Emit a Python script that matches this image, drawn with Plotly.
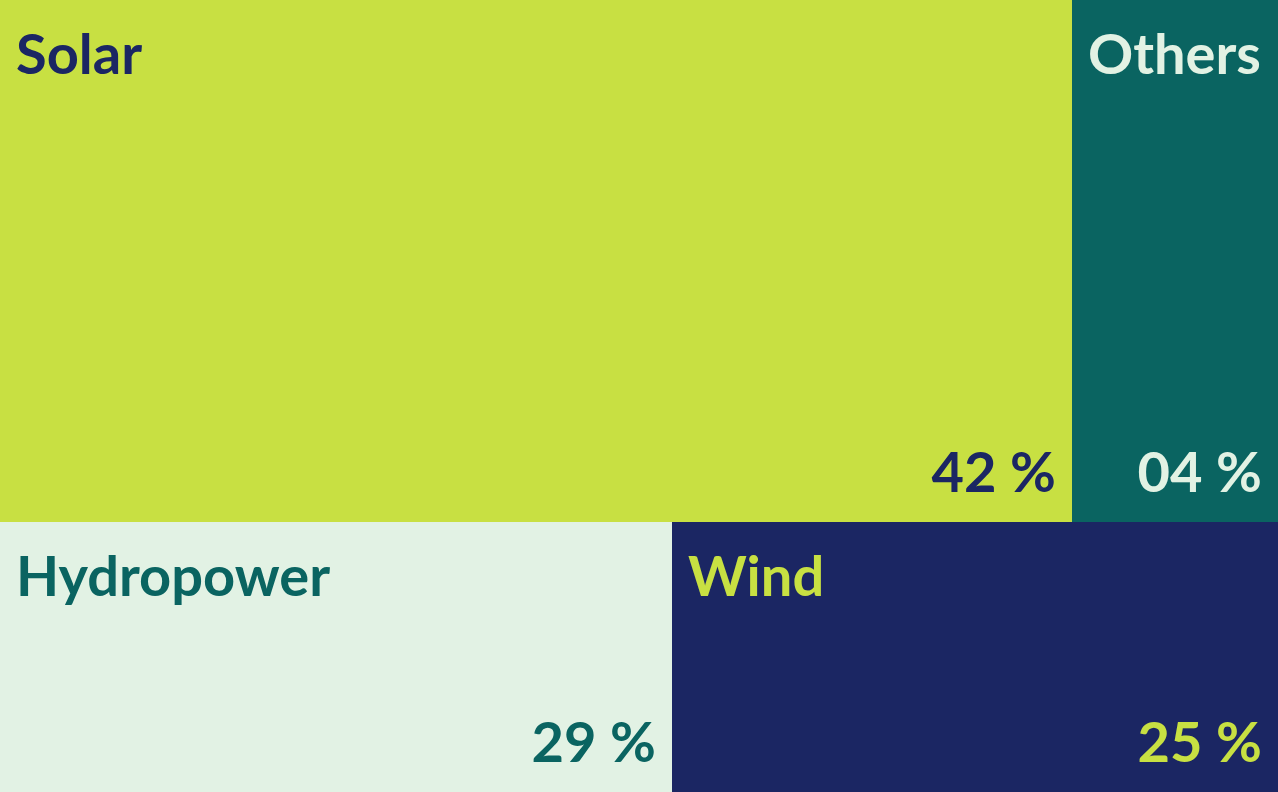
import plotly.graph_objects as go

# ---- data ----
categories = ["Solar", "Others", "Hydropower", "Wind"]
shares = [42, 4, 29, 25]
pct_labels = [f"{v:02d} %" for v in shares]

# ---- styles ----
fill_colors = ["#c8e042", "#0a6461", "#e2f2e4", "#1b2663"]
text_colors = ["#1b2663", "#e2f2e4", "#0a6461", "#c8e042"]

# ---- design layout (fractions of the canvas) ----
W, H = 1278, 792
bottom_row = 270 / H          # height share of the lower row
top_split = 1072 / W          # Solar | Others boundary
bottom_split = 672 / W        # Hydropower | Wind boundary

cells = {
    "Solar": (0, top_split, bottom_row, 1),
    "Others": (top_split, 1, bottom_row, 1),
    "Hydropower": (0, bottom_split, 0, bottom_row),
    "Wind": (bottom_split, 1, 0, bottom_row),
}
x0 = [cells[c][0] for c in categories]
x1 = [cells[c][1] for c in categories]
y0 = [cells[c][2] for c in categories]
y1 = [cells[c][3] for c in categories]

pad_l, pad_t = 16 / W, 32 / H
pad_r, pad_b = 16 / W, 16 / H
FONT_SIZE = 56

fig = go.Figure()
fig.add_trace(go.Bar(
    x=[(a + b) / 2 for a, b in zip(x0, x1)],
    width=[b - a for a, b in zip(x0, x1)],
    base=y0,
    y=[b - a for a, b in zip(y0, y1)],
    marker=dict(color=fill_colors, line=dict(width=0)),
    hoverinfo="skip",
    showlegend=False,
))
fig.add_trace(go.Scatter(
    x=[a + pad_l for a in x0],
    y=[b - pad_t for b in y1],
    mode="text",
    text=categories,
    textposition="bottom right",
    textfont=dict(family="Lato", size=FONT_SIZE, color=text_colors, weight=700),
    hoverinfo="skip",
    showlegend=False,
))
fig.add_trace(go.Scatter(
    x=[b - pad_r for b in x1],
    y=[a + pad_b for a in y0],
    mode="text",
    text=pct_labels,
    textposition="top left",
    textfont=dict(family="Lato", size=FONT_SIZE, color=text_colors, weight=700),
    hoverinfo="skip",
    showlegend=False,
))
fig.update_layout(
    width=W, height=H,
    margin=dict(l=0, r=0, t=0, b=0),
    paper_bgcolor="white", plot_bgcolor="white",
    xaxis=dict(range=[0, 1], visible=False, fixedrange=True),
    yaxis=dict(range=[0, 1], visible=False, fixedrange=True),
    bargap=0,
)
fig.write_html(
    "out.html",
    config={"displayModeBar": False},
    post_script="document.body.style.margin='0';document.body.style.overflow='hidden';",
)
